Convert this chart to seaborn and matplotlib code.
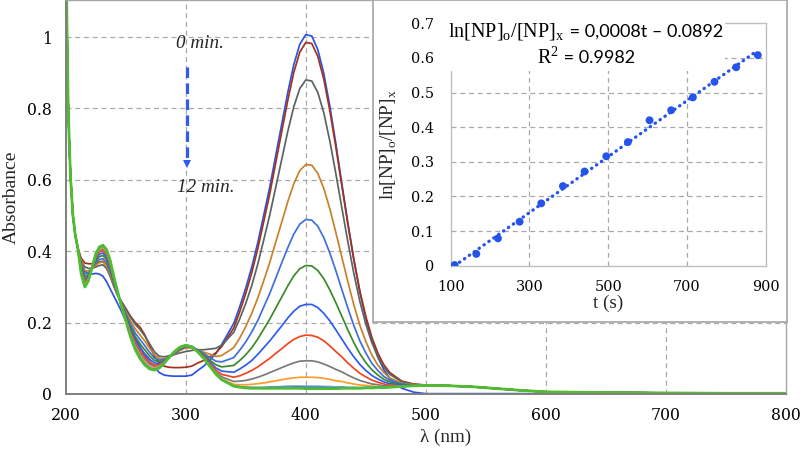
import numpy as np
import pandas as pd
import seaborn as sns
import matplotlib
matplotlib.use("Agg")
import matplotlib.pyplot as plt
from matplotlib.offsetbox import TextArea, HPacker, VPacker, AnchoredOffsetbox

# ---- spectra (absorbance vs wavelength), one spectrum per minute ----
edge_nm = [200, 201, 202, 203, 204, 206, 208, 210]
band_nm = [213, 216, 219, 222, 225, 228, 231, 234, 237, 240, 243, 246,
           250, 254, 258, 262, 266, 270, 274, 278, 282, 286, 290,
           295, 300, 305, 310, 315, 320, 325, 330,
           340, 345, 350, 355, 360, 365, 370, 375, 380, 385, 390, 395, 400, 405, 410,
           415, 420, 425, 430, 435, 440, 445, 450, 455, 460, 465, 470, 480, 490, 500]
tail_nm = [520, 540, 560, 580, 600, 650, 700, 750, 800]

edge_abs = [1.45, 1.04, 0.82, 0.70, 0.61, 0.50, 0.445, 0.41]
tail_abs = [0.023, 0.020, 0.015, 0.010, 0.006, 0.004, 0.003, 0.002, 0.002]
tail_abs_0min = [0.001, 0.001, 0.001, 0.001, 0.001, 0.001, 0.001, 0.001, 0.001]

abs_00 = [.370, .345, .337, .336, .338, .336, .330, .315, .295, .275, .255, .235,
          .205, .180, .158, .132, .108, .090, .075, .060, .053, .051, .050,
          .050, .050, .053, .066, .078, .095, .113, .139,
          .198, .245, .297, .356, .424, .502, .580, .669, .757, .845, .923, .980, 1.007, 1.003, .965,
          .898, .807, .702, .590, .480, .377, .286, .211, .150, .103, .068, .044, .016, .005, .001]
abs_01 = [.380, .367, .365, .365, .366, .370, .372, .362, .335, .305, .280, .262,
          .240, .218, .200, .187, .165, .135, .105, .087, .078, .075, .074,
          .074, .075, .078, .087, .094, .104, .115, .133,
          .185, .231, .282, .340, .407, .484, .561, .649, .736, .823, .901, .958, .985, .982, .946,
          .882, .794, .693, .584, .477, .377, .289, .217, .159, .115, .082, .060, .036, .028, .025]
abs_02 = [.372, .356, .352, .352, .356, .360, .362, .352, .330, .302, .278, .260,
          .238, .215, .195, .180, .162, .140, .118, .106, .104, .107, .110,
          .115, .119, .122, .124, .124, .126, .128, .137,
          .173, .211, .254, .304, .364, .432, .502, .580, .658, .736, .805, .856, .880, .877, .845,
          .788, .709, .618, .522, .427, .338, .260, .196, .144, .105, .075, .055, .034, .027, .025]
abs_03 = [.370, .345, .345, .350, .360, .368, .370, .360, .336, .306, .280, .258,
          .230, .205, .182, .165, .148, .128, .110, .100, .098, .103, .110,
          .122, .129, .129, .124, .117, .112, .105, .108,
          .130, .157, .189, .226, .269, .318, .369, .426, .482, .539, .589, .626, .643, .641, .618,
          .576, .519, .453, .384, .315, .250, .193, .147, .109, .081, .060, .045, .030, .026, .025]
abs_04 = [.363, .336, .340, .351, .366, .377, .379, .369, .344, .311, .282, .257,
          .225, .196, .170, .152, .135, .116, .101, .095, .096, .103, .111,
          .124, .133, .131, .124, .113, .103, .092, .090,
          .102, .123, .146, .174, .206, .244, .282, .325, .368, .410, .448, .476, .489, .487, .470,
          .438, .395, .346, .293, .241, .192, .149, .115, .086, .066, .049, .039, .028, .025, .024]
abs_05 = [.357, .328, .335, .352, .372, .385, .388, .377, .351, .315, .284, .256,
          .221, .188, .160, .140, .123, .106, .094, .090, .093, .103, .113,
          .125, .135, .132, .123, .110, .095, .082, .076,
          .080, .094, .110, .130, .154, .182, .210, .241, .272, .303, .331, .351, .360, .359, .346,
          .323, .292, .256, .218, .180, .144, .113, .088, .068, .053, .041, .034, .026, .025, .024]
abs_06 = [.351, .321, .330, .353, .377, .392, .395, .384, .357, .319, .285, .255,
          .217, .181, .151, .129, .112, .097, .087, .085, .092, .102, .114,
          .127, .136, .134, .122, .107, .090, .073, .064,
          .061, .070, .081, .094, .111, .130, .149, .170, .191, .213, .232, .246, .251, .251, .242,
          .226, .205, .180, .154, .128, .104, .083, .066, .052, .042, .034, .029, .025, .024, .024]
abs_07 = [.347, .315, .327, .353, .381, .398, .402, .390, .362, .322, .287, .254,
          .213, .175, .143, .121, .103, .089, .081, .082, .090, .102, .115,
          .128, .137, .133, .120, .105, .086, .067, .055,
          .047, .051, .058, .066, .076, .088, .100, .114, .127, .141, .153, .161, .165, .164, .159,
          .149, .135, .119, .104, .087, .072, .058, .048, .039, .033, .028, .025, .023, .024, .024]
abs_08 = [.343, .310, .324, .354, .385, .402, .407, .395, .366, .325, .288, .253,
          .211, .170, .137, .114, .096, .083, .077, .079, .089, .102, .115,
          .129, .137, .132, .119, .102, .082, .062, .048,
          .035, .036, .038, .042, .047, .053, .060, .067, .074, .081, .087, .092, .093, .093, .090,
          .084, .077, .069, .062, .053, .045, .038, .033, .028, .026, .023, .022, .022, .023, .024]
abs_09 = [.340, .306, .322, .354, .388, .406, .411, .399, .370, .327, .289, .253,
          .208, .166, .132, .108, .090, .078, .073, .077, .088, .102, .116,
          .130, .137, .132, .119, .101, .080, .058, .043,
          .027, .026, .026, .027, .029, .031, .034, .037, .040, .043, .045, .047, .047, .047, .046,
          .044, .041, .037, .035, .031, .028, .025, .024, .022, .021, .020, .020, .021, .023, .024]
abs_10 = [.337, .303, .320, .355, .390, .409, .414, .402, .372, .328, .289, .252,
          .207, .163, .128, .104, .086, .074, .070, .075, .087, .102, .117,
          .130, .137, .132, .118, .100, .078, .057, .041,
          .023, .021, .019, .019, .019, .019, .020, .020, .021, .022, .022, .022, .022, .022, .022,
          .021, .021, .020, .020, .019, .019, .018, .018, .018, .019, .019, .019, .021, .023, .024]
abs_11 = [.336, .301, .319, .355, .391, .411, .416, .404, .374, .329, .290, .252,
          .206, .161, .126, .101, .083, .072, .068, .074, .086, .102, .117,
          .131, .137, .132, .118, .100, .078, .056, .040,
          .022, .020, .018, .017, .017, .017, .018, .018, .018, .018, .019, .019, .018, .018, .018,
          .018, .017, .017, .018, .017, .017, .017, .018, .018, .018, .018, .019, .021, .023, .024]
abs_12 = [.335, .300, .318, .355, .392, .412, .417, .405, .375, .330, .290, .252,
          .205, .160, .124, .099, .081, .070, .067, .073, .086, .102, .117,
          .131, .137, .132, .118, .100, .078, .056, .040,
          .022, .019, .017, .016, .016, .016, .016, .016, .016, .016, .016, .016, .015, .015, .015,
          .015, .015, .015, .016, .016, .016, .016, .017, .017, .018, .018, .019, .021, .023, .024]

line_colors = ["#2f52e6", "#a3321c", "#5b6363", "#c98129", "#3f70da", "#3b8a2a", "#2e5cf0",
               "#f0451f", "#7a7a7a", "#ff9c2c", "#6ea3e2", "#3060f0", "#4fbd2e"]

# ---- inset: first-order kinetics ----
t_s = [110, 165, 220, 275, 330, 385, 440, 495, 550, 605, 660, 715, 770, 825, 880]
ln_ratio = [0.002, 0.034, 0.079, 0.127, 0.180, 0.230, 0.272, 0.316, 0.357,
            0.420, 0.449, 0.486, 0.531, 0.573, 0.608]

spectra = [abs_00, abs_01, abs_02, abs_03, abs_04, abs_05, abs_06,
           abs_07, abs_08, abs_09, abs_10, abs_11, abs_12]
frames = []
for i, mid in enumerate(spectra):
    tail = tail_abs_0min if i == 0 else tail_abs
    frames.append(pd.DataFrame({"nm": edge_nm + band_nm + tail_nm,
                                "A": edge_abs + mid + tail,
                                "minute": i}))
df = pd.concat(frames, ignore_index=True)

sns.set_theme(style="white")
plt.rcParams["font.family"] = ["Liberation Serif", "DejaVu Serif"]
tick_font = ["DejaVu Serif"]

grid_kw = dict(color="#a9a9a9", lw=0.9, ls=(0, (4, 3)))
fig = plt.figure(figsize=(8.02, 4.5), dpi=100)
ax = fig.add_axes([65.7 / 802, 1 - 394 / 450, 720.3 / 802, 394 / 450])

for i, g in df.groupby("minute"):
    sns.lineplot(data=g, x="nm", y="A", color=line_colors[i], lw=2.0 if i == 12 else 1.25,
                 estimator=None, sort=False, ax=ax)

ax.set_xlim(200, 800)
ax.set_ylim(0, 1.104)
ax.set_xticks([200, 300, 400, 500, 600, 700, 800])
ax.set_yticks([0, 0.2, 0.4, 0.6, 0.8, 1.0])
ax.set_yticklabels(["0", "0.2", "0.4", "0.6", "0.8", "1"])
ax.tick_params(length=0, labelsize=11.3, colors="black")
ax.tick_params(axis="y", pad=10)
ax.tick_params(axis="x", pad=9)
for lab in ax.get_xticklabels() + ax.get_yticklabels():
    lab.set_family(tick_font)
for v in [300, 400, 500, 600, 700]:
    ax.axvline(v, zorder=0, **grid_kw)
for v in [0.2, 0.4, 0.6, 0.8, 1.0]:
    ax.axhline(v, zorder=0, **grid_kw)
for s in ["left", "bottom"]:
    ax.spines[s].set_color("#7f7f7f")
    ax.spines[s].set_linewidth(1.4)
for s in ["top", "right"]:
    ax.spines[s].set_color("#a6a6a6")
    ax.spines[s].set_linewidth(1.0)
ax.set_xlabel("λ (nm)", fontsize=13.8)
ax.xaxis.set_label_coords(0.528, -0.088)
ax.set_ylabel("Absorbance", fontsize=14)
ax.yaxis.set_label_coords(-0.064, 0.5)

# time arrow
arrow_blue = "#2f5cf0"
ax.plot([300.8, 300.8], [0.915, 0.655], color=arrow_blue, lw=2.3, ls=(0, (3.3, 1.7)))
ax.plot([300.8], [0.645], marker="v", ms=6, color=arrow_blue, mew=0)
ax.text(312, 0.983, "0 min.", style="italic", fontsize=13.8, ha="center", va="center")
ax.text(317, 0.578, "12 min.", style="italic", fontsize=13.8, ha="center", va="center")

# inset frame
frame = fig.add_axes([373 / 802, 1 - 322 / 450, 414 / 802, 322 / 450], zorder=3)
frame.set_xticks([])
frame.set_yticks([])
frame.set_facecolor("white")
for s in frame.spines.values():
    s.set_color("#a6a6a6")
    s.set_linewidth(1.2)

ins = fig.add_axes([450.7 / 802, 1 - 265.7 / 450, 315 / 802, 242.4 / 450], zorder=4)
dot_blue = "#2554ea"
sns.regplot(x=t_s, y=ln_ratio, ax=ins, ci=None, color=dot_blue,
            scatter_kws={"s": 32, "edgecolor": "none", "zorder": 3, "alpha": 1},
            line_kws={"ls": (0, (0.1, 1.7)), "lw": 2.4, "dash_capstyle": "round"})
ins.set_xlim(100, 900)
ins.set_ylim(0, 0.7)
ins.set_xticks([100, 300, 500, 700, 900])
ins.set_yticks([0, 0.1, 0.2, 0.3, 0.4, 0.5, 0.6, 0.7])
ins.set_yticklabels(["0", "0.1", "0.2", "0.3", "0.4", "0.5", "0.6", "0.7"])
ins.tick_params(length=0, labelsize=10.4, colors="black")
ins.tick_params(axis="y", pad=12)
ins.tick_params(axis="x", pad=10)
for lab in ins.get_xticklabels() + ins.get_yticklabels():
    lab.set_family(tick_font)
for v in [300, 500, 700]:
    ins.axvline(v, zorder=0, **grid_kw)
for v in [0.1, 0.2, 0.3, 0.4, 0.5, 0.6]:
    ins.axhline(v, zorder=0, **grid_kw)
for s in ins.spines.values():
    s.set_color("#bfbfbf")
    s.set_linewidth(1.0)
ins.set_xlabel("t (s)", fontsize=13.8)
ins.xaxis.set_label_coords(0.5, -0.118)
ins.set_ylabel("ln[NP]$_{\\mathregular{o}}$/[NP]$_{\\mathregular{x}}$", fontsize=13.8)
ins.yaxis.set_label_coords(-0.165, 0.5)

# trendline label: serif symbols, sans numbers
serif_kw = dict(family=["Liberation Serif", "DejaVu Serif"], size=14.5, color="black")
sans_kw = dict(family=["Lato", "DejaVu Sans"], size=13, color="black")
line1 = HPacker(children=[TextArea("ln[NP]$_{\\mathregular{o}}$/[NP]$_{\\mathregular{x}}$", textprops=serif_kw),
                          TextArea(" = 0,0008t \u2013 0.0892", textprops=sans_kw)],
                align="baseline", pad=0, sep=0)
line2 = HPacker(children=[TextArea("R$^{\\mathregular{2}}$", textprops=serif_kw),
                          TextArea(" = 0.9982", textprops=sans_kw)],
                align="baseline", pad=0, sep=0)
eq_box = AnchoredOffsetbox(loc="center", child=VPacker(children=[line1, line2], align="center", pad=0, sep=3),
                           pad=0.15, borderpad=0, frameon=True,
                           bbox_to_anchor=(0.4286, 0.911), bbox_transform=ins.transAxes)
eq_box.patch.set_facecolor("white")
eq_box.patch.set_edgecolor("none")
eq_box.set_zorder(5)
ins.add_artist(eq_box)

fig.savefig("out.png", dpi=100)
